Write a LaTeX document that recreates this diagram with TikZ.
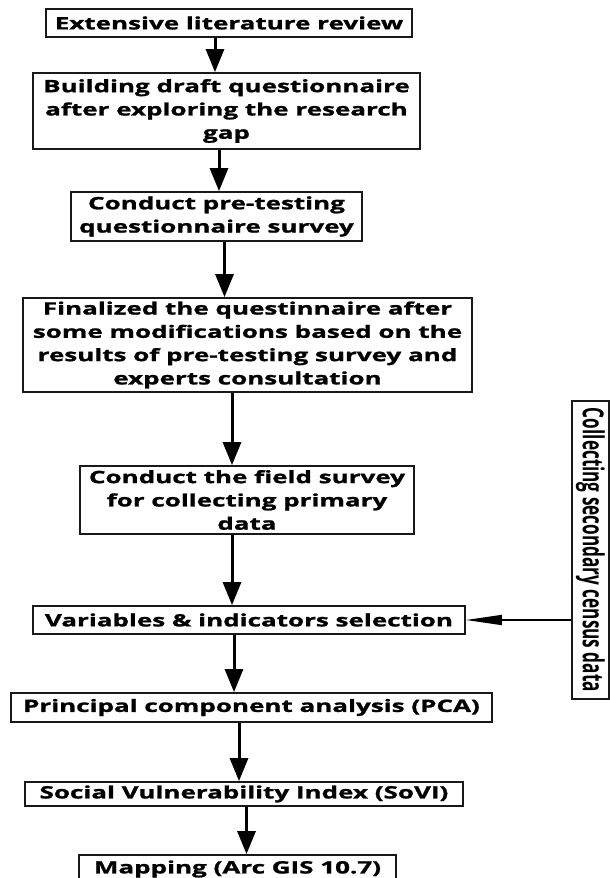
\documentclass[tikz,border=0pt]{standalone}
\usepackage{fontspec}
\usepackage{graphicx}
\usetikzlibrary{arrows.meta}
\newfontfamily\mainf{Open Sans}[FakeStretch=1.53, FakeBold=1.3]
\newfontfamily\sidef{Open Sans}
\tikzset{
  box/.style={draw=black!90, line width=1.8pt, inner sep=0pt, align=center,
    font=\mainf\bfseries\fontsize{17}{23.3}\selectfont},
  arr/.style={line width=3pt, -{Triangle[length=23pt,width=18pt]}},
  harr/.style={line width=1.6pt, -{Triangle[length=36pt,width=10pt]}}
}
\begin{document}
\begin{tikzpicture}[x=1pt,y=-1pt]
\path[fill=white, use as bounding box] (0,0) rectangle (610,878);
\node[box, minimum width=366pt, minimum height=28pt] (b1) at (229,23) {Extensive literature review};
\node[box, minimum width=387pt, minimum height=76pt] (b2) at (226.5,111) {Building draft questionnaire\\after exploring the research\\gap};
\node[box, minimum width=291pt, minimum height=49pt] (b3) at (216.5,216.5) {Conduct pre-testing\\questionnaire survey};
\node[box, minimum width=449pt, minimum height=94pt] (b4) at (247.5,345) {Finalized the questinnaire after\\some modifications based on the\\results of pre-testing survey and\\experts consultation};
\node[box, minimum width=334pt, minimum height=68pt] (b5) at (247,500) {Conduct the field survey\\for collecting primary\\data};
\node[box, minimum width=432pt, minimum height=28pt] (b6) at (249,620) {Variables \& indicators selection};
\node[box, minimum width=481pt, minimum height=29pt] (b7) at (251.5,707.5) {Principal component analysis (PCA)};
\node[box, minimum width=438pt, minimum height=24pt] (b8) at (244,794) {Social Vulnerability Index (SoVI)};
\node[box, minimum width=317pt, minimum height=28pt] (b9) at (237.5,869) {Mapping (Arc GIS 10.7)};
\node[draw=black!90, line width=1.8pt, inner sep=0pt, minimum width=37pt, minimum height=298pt] (side) at (590.5,550)
  {\rotatebox{-90}{\resizebox{284pt}{22pt}{\sidef\bfseries Collecting secondary census data}}};
\coordinate (a1) at (215,0);
\coordinate (a2) at (219,0);
\coordinate (a3) at (224.5,0);
\coordinate (a4) at (232,0);
\coordinate (a5) at (232,0);
\coordinate (a6) at (234,0);
\coordinate (a7) at (239,0);
\coordinate (a8) at (246.5,0);
\draw[arr] (b1.south -| a1) -- (b2.north -| a1);
\draw[arr] (b2.south -| a2) -- (b3.north -| a2);
\draw[arr] (b3.south -| a3) -- (b4.north -| a3);
\draw[arr] (b4.south -| a4) -- (b5.north -| a4);
\draw[arr] (b5.south -| a5) -- (b6.north -| a5);
\draw[arr] (b6.south -| a6) -- (b7.north -| a6);
\draw[arr] (b7.south -| a7) -- (b8.north -| a7);
\draw[arr] (b8.south -| a8) -- (b9.north -| a8);
\draw[harr] (side.west |- b6.east) -- (b6.east);
\end{tikzpicture}
\end{document}
